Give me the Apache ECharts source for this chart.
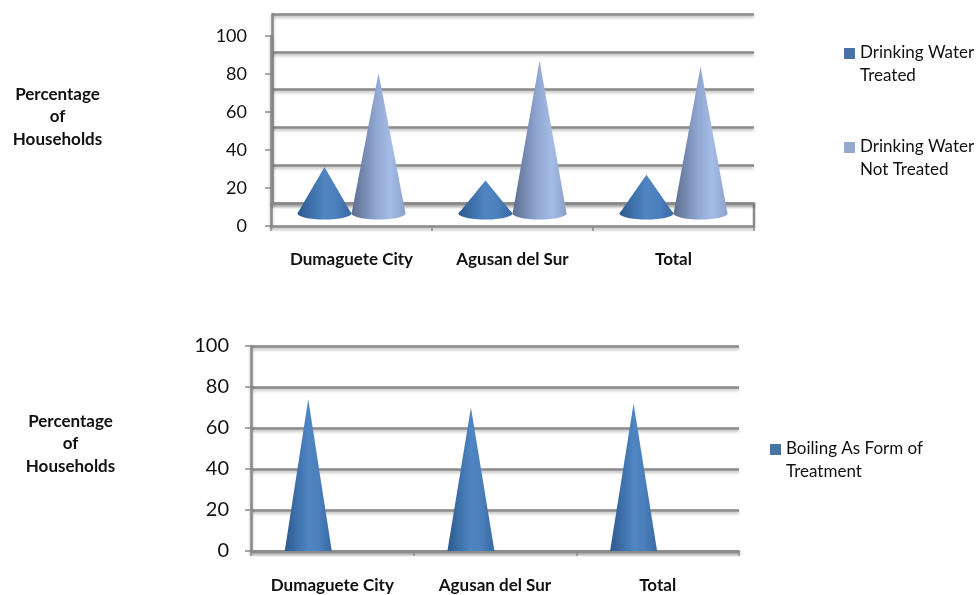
<!DOCTYPE html>
<html><head><meta charset="utf-8">
<style>html,body{margin:0;padding:0;background:#fff}#c{width:976px;height:595px}</style>
<script src="https://cdn.jsdelivr.net/npm/echarts@6/dist/echarts.min.js"></script>
</head><body><div id="c"></div>
<script>
const categories = ['Dumaguete City', 'Agusan del Sur', 'Total'];
const treated = [31, 24, 27];
const notTreated = [80.5, 87, 84];
const boiling = [74, 70, 72];
const yTicksMax = 100;
const seriesNames = ['Drinking Water Treated', 'Drinking Water Not Treated', 'Boiling As Form of Treatment'];

const FONT = 'Lato, "Open Sans", sans-serif';
const AXIS = '#8a8a8a';
const DARK = [[0,'#2c5a8f'],[0.5,'#4f85c2'],[0.72,'#4c80bc'],[1,'#386aa3']];
const LIGHT = [[0,'#5c6d8e'],[0.45,'#8fa6d2'],[0.72,'#a5bce6'],[1,'#8aa1cc']];
const lineStyle = {color:AXIS,width:2.5,shadowColor:'rgba(0,0,0,0.28)',shadowBlur:3,shadowOffsetY:2};
const ICON = 'path://M0 0L0 0M0 7H11V18H0ZM11 46L11 46';

function cone(stops, offset, widthFrac, floor, ryPx){
  return function(params, api){
    const c = api.value(0), v = api.value(1);
    const band = api.size([1,0])[0];
    const dx = offset*band, hw = widthFrac*band/2;
    const apex = api.coord([c, v]);
    const base = api.coord([c, floor]);
    const x = apex[0]+dx, y0 = base[1];
    const fill = {type:'linear',global:true,x:x-hw,y:0,x2:x+hw,y2:0,
      colorStops:stops.map(s=>({offset:s[0],color:s[1]}))};
    const children = [{type:'polygon',shape:{points:[[x,apex[1]],[x-hw,y0],[x+hw,y0]]},style:{fill}}];
    if(ryPx>0) children.push({type:'ellipse',shape:{cx:x,cy:y0,rx:hw,ry:ryPx},style:{fill}});
    return {type:'group',children};
  };
}
function rows(a){return a.map((v,i)=>[i,v]);}
const cat = (gridIndex, margin) => ({type:'category',gridIndex,data:categories,
  axisLine:{show:true,lineStyle},
  axisTick:{show:true,alignWithLabel:false,length:5,lineStyle:{color:AXIS,width:1.5}},
  axisLabel:{color:'#111',fontFamily:FONT,fontWeight:'bold',fontSize:17,margin},splitLine:{show:false}});
const val = (gridIndex, grid, fontSize, margin) => ({type:'value',gridIndex,min:0,max:yTicksMax,interval:20,
  axisLine:{show:true,lineStyle},
  axisTick:{show:true,length:6,lineStyle:{color:AXIS,width:1.5}},
  axisLabel:{color:'#111',fontFamily:FONT,fontSize,margin,padding:[2,0,0,0]},
  splitLine:{show:grid,lineStyle}});
const titleText = n => ({text:'Percentage\nof\nHouseholds',left:n.x,top:n.y,textAlign:'center',
  textStyle:{fontFamily:FONT,fontWeight:'bold',fontSize:17,lineHeight:22.5,color:'#111'}});
const legendText = {fontFamily:FONT,fontSize:17,lineHeight:23,color:'#111'};

const option = {
  animation:false,
  title:[titleText({x:52.5,y:78}),titleText({x:65.5,y:405})],
  grid:[
    {left:272,right:222,top:14,height:189},
    {left:271,right:222,top:36,height:190},
    {left:251,right:237,top:346,height:205}
  ],
  xAxis:[
    Object.assign(cat(0,20),{axisLabel:{show:false},axisTick:{show:false}}),
    cat(1,25),
    cat(2,26)
  ],
  yAxis:[
    Object.assign(val(0,true,18,24),{axisLabel:{show:false},axisTick:{show:false}}),
    val(1,false,18,24),
    val(2,true,20,22)
  ],
  legend:[
    {orient:'vertical',left:839,top:36,itemWidth:11,itemHeight:46,itemGap:48,itemStyle:{},icon:ICON,
     data:[{name:seriesNames[0],itemStyle:{color:'#4674a7'}},{name:seriesNames[1],itemStyle:{color:'#95a9cf'}}],
     formatter:n=>n.replace('Water ','Water\n'),textStyle:legendText},
    {orient:'vertical',left:765,top:432,itemWidth:11,itemHeight:46,icon:ICON,
     data:[{name:seriesNames[2],itemStyle:{color:'#4674a7'}}],
     formatter:n=>n.replace('of ','of\n'),textStyle:legendText}
  ],
  graphic:[{type:'line',shape:{x1:754,y1:203,x2:754,y2:226},style:{stroke:AXIS,lineWidth:2.5}}],
  series:[
    {type:'custom',name:seriesNames[0],xAxisIndex:1,yAxisIndex:1,data:rows(treated),color:'#4674a7',
     renderItem:cone(DARK,-0.168,0.335,6.6,6),encode:{x:0,y:1},clip:false},
    {type:'custom',name:seriesNames[1],xAxisIndex:1,yAxisIndex:1,data:rows(notTreated),color:'#95a9cf',
     renderItem:cone(LIGHT,0.168,0.335,6.6,6),encode:{x:0,y:1},clip:false},
    {type:'custom',name:seriesNames[2],xAxisIndex:2,yAxisIndex:2,data:rows(boiling),color:'#4674a7',
     renderItem:cone(DARK,-0.148,0.289,0,0),encode:{x:0,y:1},clip:false}
  ]
};
echarts.init(document.getElementById('c'),null,{renderer:'canvas'}).setOption(option);
</script></body></html>
